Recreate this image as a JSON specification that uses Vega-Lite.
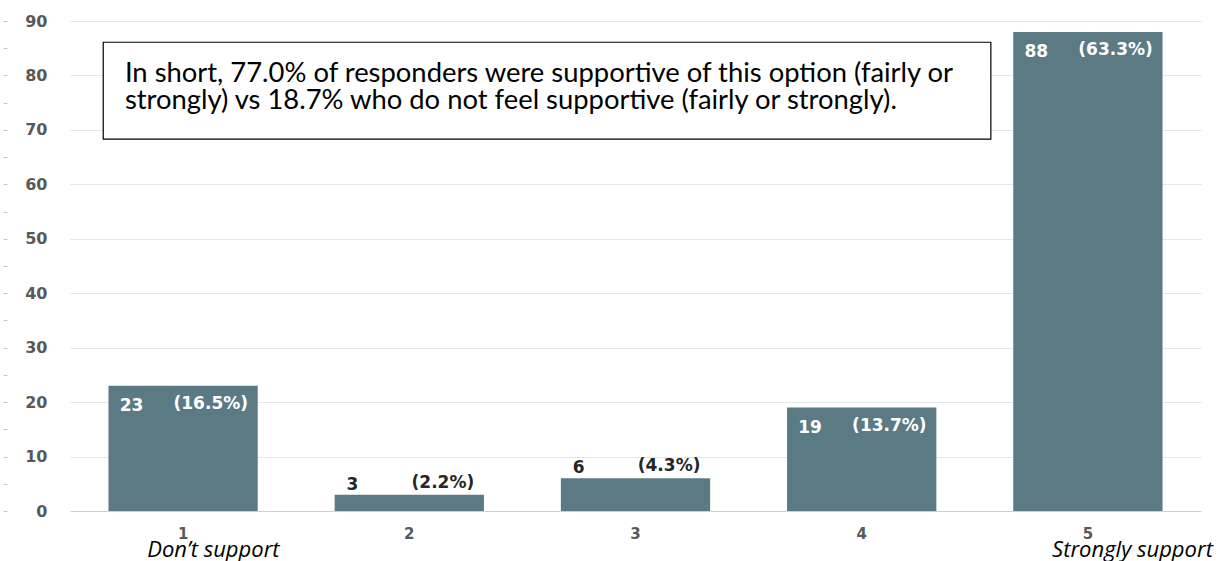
{
  "$schema": "https://vega.github.io/schema/vega-lite/v6.json",
  "width": 1131,
  "height": 490,
  "autosize": "none",
  "padding": {"left": 70, "top": 21, "right": 18, "bottom": 50},
  "background": "white",
  "config": {"view": {"stroke": null}},
  "data": {
    "values": [
      {"rating": "1", "count": 23, "pct": "(16.5%)", "note": "Don’t support"},
      {"rating": "2", "count": 3, "pct": "(2.2%)", "note": ""},
      {"rating": "3", "count": 6, "pct": "(4.3%)", "note": ""},
      {"rating": "4", "count": 19, "pct": "(13.7%)", "note": ""},
      {"rating": "5", "count": 88, "pct": "(63.3%)", "note": "Strongly support"}
    ]
  },
  "resolve": {"axis": {"y": "independent"}},
  "encoding": {
    "x": {
      "field": "rating",
      "type": "ordinal",
      "scale": {"paddingInner": 0.34, "paddingOuter": 0.17},
      "axis": {
        "title": null,
        "labelAngle": 0,
        "labelFont": "DejaVu Sans",
        "labelFontWeight": "bold",
        "labelFontSize": 15,
        "labelColor": "#595959",
        "labelPadding": 15,
        "ticks": false,
        "domainColor": "#d0d0d0",
        "grid": false
      }
    }
  },
  "layer": [
    {
      "mark": {"type": "bar", "color": "#5B7B84"},
      "encoding": {
        "y": {
          "field": "count",
          "type": "quantitative",
          "scale": {"domain": [0, 90], "nice": false},
          "axis": {
            "title": null,
            "values": [0, 10, 20, 30, 40, 50, 60, 70, 80, 90],
            "labelFont": "DejaVu Sans",
            "labelFontWeight": "bold",
            "labelFontSize": 16,
            "labelColor": "#595959",
            "labelPadding": 23,
            "ticks": false,
            "domain": false,
            "gridColor": "#e6e6e6"
          }
        }
      }
    },
    {
      "mark": {"type": "rect", "fill": "white", "stroke": "black", "strokeWidth": 1.2},
      "data": {"values": [{}]},
      "encoding": {
        "x": {"datum": "1", "type": "ordinal", "bandPosition": -0.035},
        "x2": {"datum": "5", "bandPosition": -0.15},
        "y": {"datum": 86.1, "type": "quantitative", "axis": null},
        "y2": {"datum": 68.3}
      }
    },
    {
      "mark": {
        "type": "text",
        "align": "left",
        "baseline": "alphabetic",
        "font": "Lato",
        "fontSize": 27.4,
        "lineHeight": 27.5,
        "color": "black"
      },
      "data": {"values": [{}]},
      "encoding": {
        "x": {"datum": "1", "type": "ordinal", "bandPosition": 0.11},
        "y": {"datum": 78.86, "type": "quantitative", "axis": null},
        "text": {
          "value": [
            "In short, 77.0% of responders were supportive of this option (fairly or",
            "strongly) vs 18.7% who do not feel supportive (fairly or strongly)."
          ]
        }
      }
    },
    {
      "transform": [{"filter": "datum.count > 10"}],
      "mark": {"type": "text", "align": "left", "baseline": "middle", "dy": 20, "font": "DejaVu Sans", "fontWeight": "bold", "fontSize": 17, "color": "white"},
      "encoding": {
        "x": {"field": "rating", "type": "ordinal", "bandPosition": 0.075},
        "y": {"field": "count", "type": "quantitative", "axis": null},
        "text": {"field": "count"}
      }
    },
    {
      "transform": [{"filter": "datum.count > 10"}],
      "mark": {"type": "text", "align": "right", "baseline": "middle", "dy": 18, "font": "DejaVu Sans", "fontWeight": "bold", "fontSize": 17, "color": "white"},
      "encoding": {
        "x": {"field": "rating", "type": "ordinal", "bandPosition": 0.935},
        "y": {"field": "count", "type": "quantitative", "axis": null},
        "text": {"field": "pct"}
      }
    },
    {
      "transform": [{"filter": "datum.count <= 10"}],
      "mark": {"type": "text", "align": "left", "baseline": "middle", "dy": -10, "font": "DejaVu Sans", "fontWeight": "bold", "fontSize": 17, "color": "#262626"},
      "encoding": {
        "x": {"field": "rating", "type": "ordinal", "bandPosition": 0.08},
        "y": {
          "field": "count",
          "type": "quantitative",
          "axis": {
            "orient": "left",
            "title": null,
            "values": [0, 5, 10, 15, 20, 25, 30, 35, 40, 45, 50, 55, 60, 65, 70, 75, 80, 85, 90],
            "labels": false,
            "domain": false,
            "grid": false,
            "ticks": true,
            "tickSize": 4,
            "tickWidth": 1,
            "tickColor": "#c4c4c4",
            "offset": 63
          }
        },
        "text": {"field": "count"}
      }
    },
    {
      "transform": [{"filter": "datum.count <= 10"}],
      "mark": {"type": "text", "align": "right", "baseline": "middle", "dy": -12, "font": "DejaVu Sans", "fontWeight": "bold", "fontSize": 17, "color": "#262626"},
      "encoding": {
        "x": {"field": "rating", "type": "ordinal", "bandPosition": 0.935},
        "y": {"field": "count", "type": "quantitative", "axis": null},
        "text": {"field": "pct"}
      }
    },
    {
      "mark": {"type": "text", "align": "left", "baseline": "alphabetic", "font": "Open Sans", "fontStyle": "italic", "fontSize": 22, "color": "black"},
      "encoding": {
        "x": {"field": "rating", "type": "ordinal", "bandPosition": 0.26},
        "y": {"datum": -8.4, "type": "quantitative", "axis": null},
        "text": {"field": "note"}
      }
    }
  ]
}
